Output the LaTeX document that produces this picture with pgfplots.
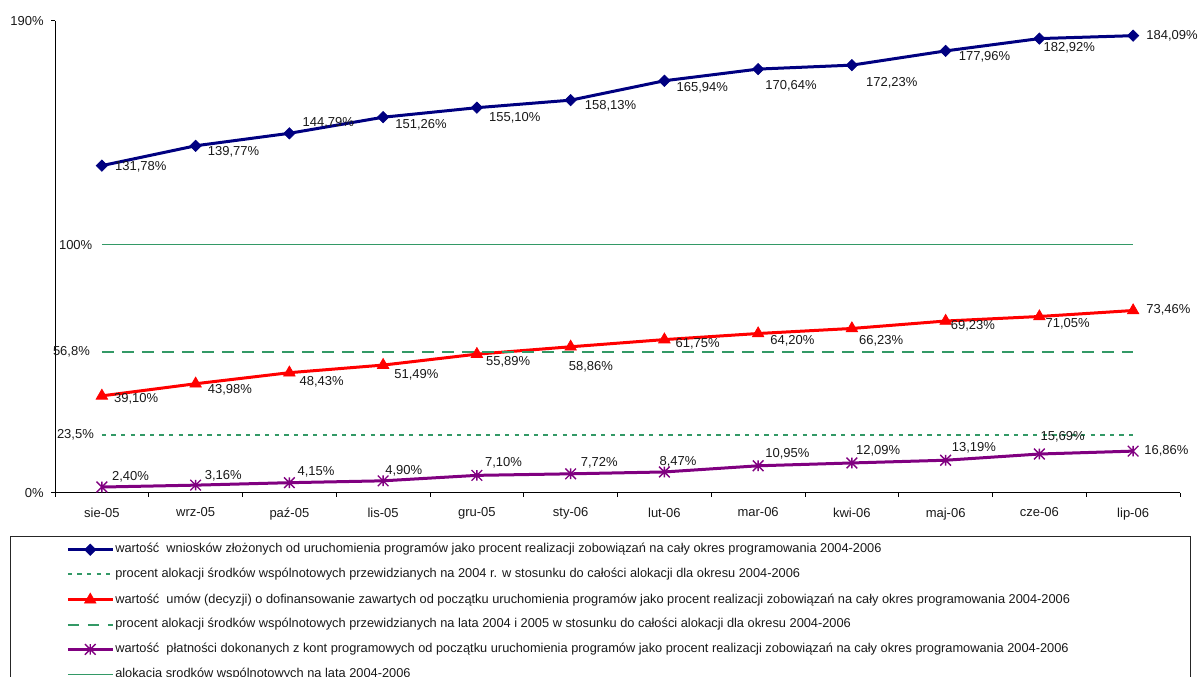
\documentclass[border=0pt]{standalone}
\usepackage{pgfplots}
\pgfplotsset{compat=1.18}
\usepackage{pgfplotstable}
\usepackage{fontspec}
\setmainfont{Liberation Sans}
\definecolor{cnavy}{RGB}{0,0,128}
\definecolor{cred}{RGB}{255,0,0}
\definecolor{cpurple}{RGB}{128,0,128}
\definecolor{cgreen}{RGB}{51,153,102}
\newcommand\lblfont{\fontsize{9.75}{11.7}\selectfont}
\newcommand\legfont{\fontsize{9.6}{11}\selectfont}
\pgfdeclareplotmark{xstar}{%
  \pgfpathmoveto{\pgfqpoint{-\pgfplotmarksize}{-\pgfplotmarksize}}%
  \pgfpathlineto{\pgfqpoint{\pgfplotmarksize}{\pgfplotmarksize}}%
  \pgfpathmoveto{\pgfqpoint{-\pgfplotmarksize}{\pgfplotmarksize}}%
  \pgfpathlineto{\pgfqpoint{\pgfplotmarksize}{-\pgfplotmarksize}}%
  \pgfpathmoveto{\pgfqpoint{0pt}{-\pgfplotmarksize}}%
  \pgfpathlineto{\pgfqpoint{0pt}{\pgfplotmarksize}}%
  \pgfusepathqstroke}

\pgfplotstableread{
x y dx dy lab
0 131.78 13 -1 131,78
1 139.77 12 -6 139,77
2 144.79 13 11 144,79
3 151.26 12 -8 151,26
4 155.10 12 -10 155,10
5 158.13 14 -6 158,13
6 165.94 12 -7 165,94
7 170.64 7 -17 170,64
8 172.23 14 -18 172,23
9 177.96 13 -6 177,96
10 182.92 4 -9 182,92
11 184.09 13 0 184,09
}\wnioski
\pgfplotstableread{
x y dx dy lab
0 39.10 12 -3 39,10
1 43.98 12 -6 43,98
2 48.43 10 -9 48,43
3 51.49 11 -10 51,49
4 55.89 9 -8 55,89
5 58.86 -2 -20 58,86
6 61.75 11 -4 61,75
7 64.20 12 -7 64,20
8 66.23 7 -12 66,23
9 69.23 5 -5 69,23
10 71.05 6 -7 71,05
11 73.46 13 1 73,46
}\umowy
\pgfplotstableread{
x y dx dy lab
0 2.40 10 10 2,40
1 3.16 9 9 3,16
2 4.15 8 11 4,15
3 4.90 2 10 4,90
4 7.10 8 13 7,10
5 7.72 10 11 7,72
6 8.47 -5 10 8,47
7 10.95 7 12 10,95
8 12.09 4 12 12,09
9 13.19 6 12 13,19
10 15.69 1 17 15,69
11 16.86 11 0 16,86
}\platnosci

\begin{document}
\begin{tikzpicture}
\path[use as bounding box] (0pt,0pt) rectangle (900.75pt,507.75pt);
\draw[line width=0.75pt, black!85] (7.5pt,105pt) rectangle (892.5pt,-20pt);
\begin{axis}[
  at={(41.25pt,138pt)}, anchor=south west,
  scale only axis, width=843.75pt, height=354pt,
  xmin=-0.5, xmax=11.5, ymin=0, ymax=190,
  clip=false,
  axis x line*=bottom, axis y line*=left,
  axis line style={-, line width=0.75pt, black},
  tick align=outside, major tick length=3pt,
  tick style={black, line width=0.75pt},
  xtick={-0.5,0.5,...,11.5},
  x tick label as interval,
  xticklabels={sie-05,wrz-05,paź-05,lis-05,gru-05,sty-06,lut-06,mar-06,kwi-06,maj-06,cze-06,lip-06},
  ytick={0,190},
  yticklabels={0\%,190\%},
  tick label style={font=\lblfont, text=black!90},
  xticklabel style={yshift=-4.5pt},
  yticklabel style={inner sep=0pt, xshift=-5.25pt},
  legend style={
    at={(axis description cs:0.00978,-0.1065)}, anchor=north west,
    draw=none, fill=none, inner sep=0pt,
    font=\legfont, row sep=9.4pt, column sep=0.75pt,
    nodes={inner sep=0pt, text height=7pt, text depth=2.2pt, text=black!90},
  },
  legend cell align=left,
  legend image code/.code={\draw[mark repeat=2,mark phase=2,#1] plot coordinates {(0pt,0pt) (16.875pt,0pt) (33.75pt,0pt)};},
  labelplot/.style={draw=none, mark=none, forget plot,
    nodes near coords={\pgfplotspointmeta\%}, point meta=explicit symbolic,
    visualization depends on={\thisrow{dx}\as\dx},
    visualization depends on={\thisrow{dy}\as\dy},
    every node near coord/.append style={anchor=west, inner sep=0pt, text=black!90, font=\lblfont, xshift=\dx*0.75pt, yshift=\dy*0.75pt}},
]
\addplot[cnavy, line width=2.25pt, mark=square*, mark size=3pt,
  mark options={rotate=45, solid, line width=0.5pt}] table[x=x,y=y] {\wnioski};
\addlegendentry{wartość\ \ wniosków złożonych od uruchomienia programów jako procent realizacji zobowiązań na cały okres programowania 2004-2006}

\addplot[cgreen, line width=1.5pt, dash pattern=on 3.2pt off 4pt] coordinates {(0,23.5) (11,23.5)}
  node[pos=0, anchor=east, inner sep=0pt, xshift=-5.25pt, text=black!90, font=\lblfont] {23,5\%};
\addlegendentry{procent alokacji środków wspólnotowych przewidzianych na 2004 r. w stosunku do całości alokacji dla okresu 2004-2006}

\addplot[cred, line width=2.25pt, mark=triangle*, mark size=5pt,
  mark options={solid, line width=0.5pt}] table[x=x,y=y] {\umowy};
\addlegendentry{wartość\ \ umów (decyzji) o dofinansowanie zawartych od początku uruchomienia programów jako procent realizacji zobowiązań na cały okres programowania 2004-2006}

\addplot[cgreen, line width=1.5pt, dash pattern=on 8.75pt off 6.25pt] coordinates {(0,56.8) (11,56.8)}
  node[pos=0, anchor=east, inner sep=0pt, xshift=-8.25pt, text=black!90, font=\lblfont] {56,8\%};
\addlegendentry{procent alokacji środków wspólnotowych przewidzianych na lata 2004 i 2005 w stosunku do całości alokacji dla okresu 2004-2006}

\addplot[cpurple, line width=2.25pt, mark=xstar, mark size=4pt,
  mark options={solid, line width=1pt}] table[x=x,y=y] {\platnosci};
\addlegendentry{wartość\ \ płatności dokonanych z kont programowych od początku uruchomienia programów jako procent realizacji zobowiązań na cały okres programowania 2004-2006}

\addplot[cgreen, line width=0.9pt] coordinates {(0,100) (11,100)}
  node[pos=0, anchor=east, inner sep=0pt, xshift=-6.75pt, text=black!90, font=\lblfont] {100\%};
\addlegendentry{alokacja srodków wspólnotowych na lata 2004-2006}

\addplot[labelplot] table[x=x,y=y,meta=lab] {\wnioski};
\addplot[labelplot] table[x=x,y=y,meta=lab] {\umowy};
\addplot[labelplot] table[x=x,y=y,meta=lab] {\platnosci};
\end{axis}
\end{tikzpicture}
\end{document}
